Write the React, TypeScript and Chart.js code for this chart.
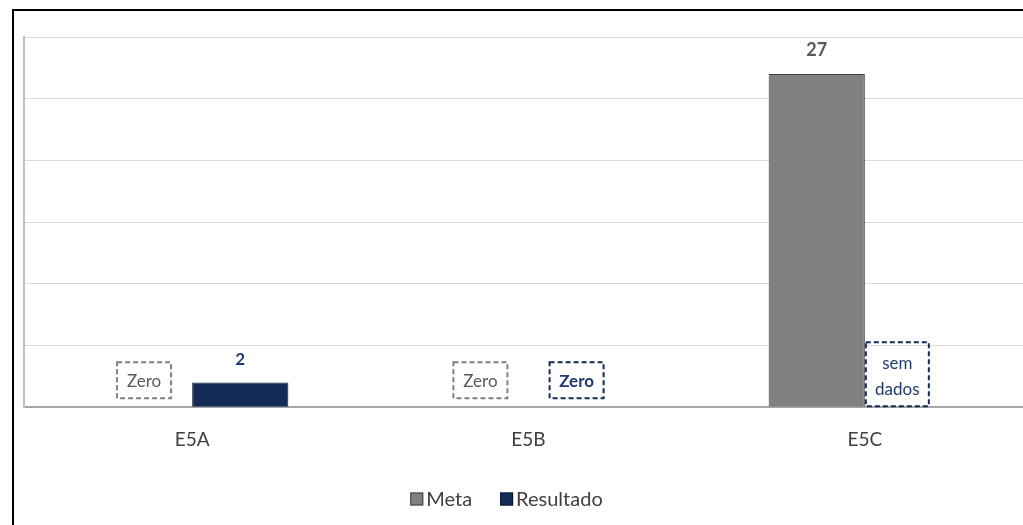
import React, { useEffect, useRef } from "react";
import { Chart, registerables } from "chart.js";

Chart.register(...registerables);

const categories = ["E5A", "E5B", "E5C"];
const metaValues: (number | null)[] = [0, 0, 27];
const resultadoValues: (number | null)[] = [2, 0, null];
const yTicks = [0, 5, 10, 15, 20, 25, 30];

const FONT = "Lato, 'Open Sans', sans-serif";
const GRAY = "#808080";
const NAVY = "#132C57";
const NAVY_TEXT = "#1F3A6E";

const labelPlugin = {
  id: "barLabels",
  afterDatasetsDraw(chart: any) {
    const ctx = chart.ctx;
    const yScale = chart.scales.y;
    const base = yScale.getPixelForValue(0);
    chart.data.datasets.forEach((ds: any, di: number) => {
      const meta = chart.getDatasetMeta(di);
      const isMeta = di === 0;
      meta.data.forEach((bar: any, i: number) => {
        const v = ds.data[i];
        const x = bar.x;
        const w = bar.width;
        ctx.save();
        ctx.textAlign = "center";
        if (v !== null && v > 0) {
          ctx.fillStyle = isMeta ? "#595959" : NAVY_TEXT;
          ctx.font = `bold ${isMeta ? 18 : 17}px ${FONT}`;
          ctx.textBaseline = "bottom";
          ctx.fillText(String(v), x, bar.y - 15);
        } else if (v === 0) {
          const bw = 54;
          const bh = 36;
          const cy = base - 27;
          ctx.setLineDash([5, 3]);
          ctx.lineWidth = 2;
          ctx.strokeStyle = isMeta ? "#7F7F7F" : NAVY;
          ctx.strokeRect(x - bw / 2, cy - bh / 2, bw, bh);
          ctx.fillStyle = isMeta ? "#595959" : NAVY_TEXT;
          ctx.font = `${isMeta ? "" : "bold "}17px ${FONT}`;
          ctx.textBaseline = "middle";
          ctx.fillText("Zero", x, cy + 1);
        } else if (v === null) {
          const left = x - w / 2 + 1;
          const bw = 63;
          const top = base - 65;
          const bh = 64;
          ctx.setLineDash([5, 3]);
          ctx.lineWidth = 2;
          ctx.strokeStyle = NAVY;
          ctx.strokeRect(left, top, bw, bh);
          ctx.fillStyle = NAVY_TEXT;
          ctx.font = `17px ${FONT}`;
          ctx.textBaseline = "middle";
          ctx.fillText("sem", left + bw / 2, top + 21);
          ctx.fillText("dados", left + bw / 2, top + 47);
        }
        ctx.restore();
      });
    });
  },
};

const legendPlugin = {
  id: "customLegend",
  afterDraw(chart: any) {
    const ctx = chart.ctx;
    const datasets = chart.data.datasets;
    const box = 13;
    const gap = 3;
    const itemGap = 28;
    const centerX = 506.5;
    const centerY = 499;
    ctx.save();
    ctx.font = `20px ${FONT}`;
    const widths = datasets.map((d: any) => box + gap + ctx.measureText(d.label).width);
    const total = widths.reduce((a: number, b: number) => a + b, 0) + itemGap * (datasets.length - 1);
    let x = centerX - total / 2;
    datasets.forEach((d: any, i: number) => {
      ctx.fillStyle = d.backgroundColor;
      ctx.fillRect(x, centerY - box / 2, box, box);
      ctx.lineWidth = 1;
      ctx.strokeStyle = d.borderColor;
      ctx.strokeRect(x + 0.5, centerY - box / 2 + 0.5, box - 1, box - 1);
      ctx.fillStyle = "#404040";
      ctx.textAlign = "left";
      ctx.textBaseline = "middle";
      ctx.fillText(d.label, x + box + gap, centerY + 1);
      x += widths[i] + itemGap;
    });
    ctx.restore();
  },
};

export default function App() {
  const ref = useRef<HTMLCanvasElement | null>(null);
  useEffect(() => {
    if (!ref.current) return;
    const chart = new Chart(ref.current, {
      type: "bar",
      data: {
        labels: categories,
        datasets: [
          {
            label: "Meta",
            data: metaValues,
            backgroundColor: GRAY,
            borderColor: "#404040",
            borderWidth: 1,
            categoryPercentage: 0.572,
            barPercentage: 1,
          },
          {
            label: "Resultado",
            data: resultadoValues,
            backgroundColor: NAVY,
            borderColor: "#0A1A36",
            borderWidth: 1,
            categoryPercentage: 0.572,
            barPercentage: 1,
          },
        ],
      },
      options: {
        responsive: false,
        animation: false,
        layout: { padding: { left: 24, top: 37, right: 7, bottom: 61 } },
        plugins: {
          tooltip: { enabled: false },
          legend: { display: false },
        },
        scales: {
          x: {
            grid: { display: false },
            border: { color: "#A6A6A6", width: 2 },
            ticks: {
              color: "#404040",
              font: { family: FONT, size: 19 },
              padding: 13,
            },
          },
          y: {
            min: yTicks[0],
            max: yTicks[yTicks.length - 1],
            afterBuildTicks: (axis: any) => {
              axis.ticks = yTicks.map((v) => ({ value: v }));
            },
            grid: { color: "#D9D9D9", lineWidth: 1, drawTicks: false },
            border: { color: "#BFBFBF", width: 2 },
            ticks: { display: false },
          },
        },
      },
      plugins: [labelPlugin, legendPlugin],
    });
    return () => chart.destroy();
  }, []);
  return (
    <div
      style={{
        position: "fixed",
        left: 0,
        top: 0,
        width: 1023,
        height: 525,
        overflow: "hidden",
        background: "#fff",
      }}
    >
      <canvas
        ref={ref}
        width={1040}
        height={525}
        style={{ position: "absolute", left: 0, top: 0, width: 1040, height: 525 }}
      />
      <div
        style={{
          position: "absolute",
          left: 12,
          top: 9,
          width: 1100,
          height: 600,
          borderLeft: "2px solid #000",
          borderTop: "2px solid #000",
          pointerEvents: "none",
        }}
      />
    </div>
  );
}
